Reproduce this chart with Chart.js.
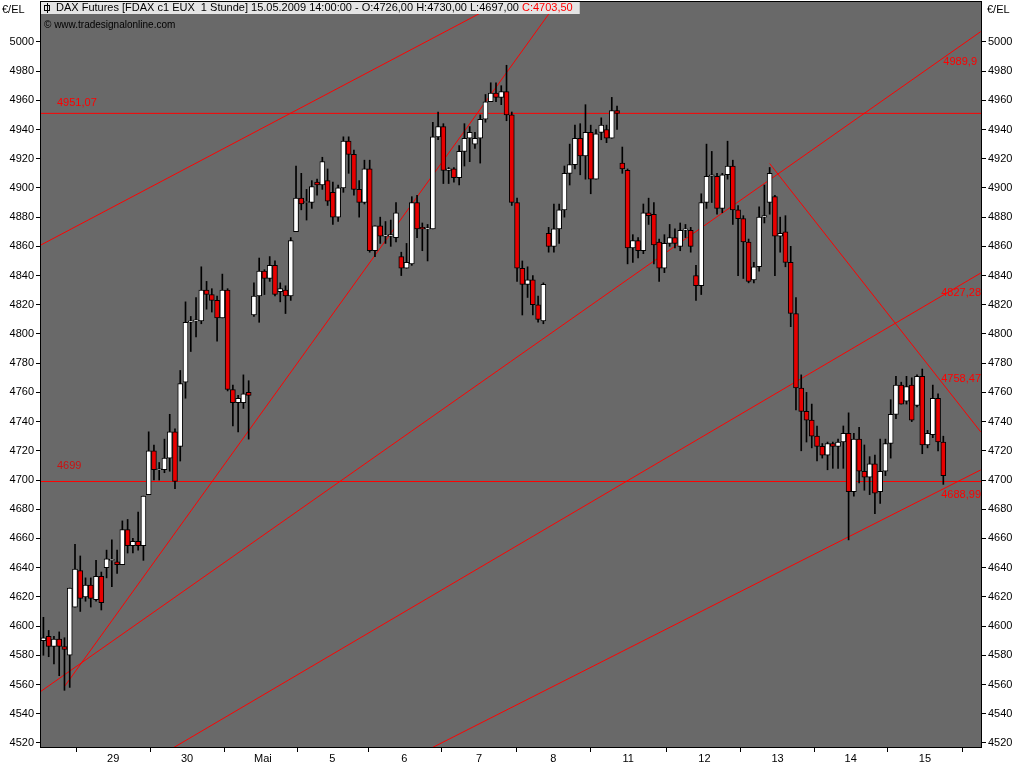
<!DOCTYPE html>
<html>
<head>
<meta charset="utf-8">
<script src="https://cdn.jsdelivr.net/npm/chart.js@4.4.1/dist/chart.umd.min.js"></script>
<style>
  html, body { margin: 0; padding: 0; background: #ffffff; }
  #wrap { position: relative; width: 1024px; height: 768px; }
</style>
</head>
<body>
<div id="wrap"><canvas id="dax" width="1024" height="768"></canvas></div>
<script>
// hourly FDAX candles, 28.04.2009 - 15.05.2009
const opens = [4590,4593,4586,4591,4586,4580,4613,4638,4620,4628,4618,4634,4640,4645,4644,4642,4666,4655,4658,4655,
  4690,4720,4707,4707,4715,4733,4723,4767,4808,4809,4809,4830,4827,4823,4811,4830,4762,4753,4753,4760,
  4813,4826,4843,4838,4847,4829,4830,4826,4870,4893,4890,4890,4904,4902,4905,4897,4880,4900,4932,4923,
  4899,4890,4913,4857,4874,4867,4867,4866,4853,4845,4848,4890,4873,4872,4872,4935,4942,4912,4913,4907,
  4925,4934,4930,4934,4947,4959,4965,4962,4966,4950,4890,4845,4834,4837,4820,4809,4869,4860,4872,4885,
  4910,4916,4934,4922,4938,4906,4938,4940,4934,4953,4917,4912,4859,4864,4857,4883,4882,4863,4845,4862,
  4866,4860,4871,4871,4840,4833,4890,4908,4908,4886,4909,4915,4885,4879,4863,4837,4846,4880,4890,4894,
  4867,4870,4849,4814,4763,4747,4741,4730,4723,4717,4725,4723,4726,4732,4692,4728,4706,4702,4711,4692,
  4706,4725,4745,4765,4754,4765,4751,4771,4724,4731,4756,4726];
const highs = [4606,4597,4593,4596,4592,4626,4656,4648,4633,4633,4645,4637,4652,4659,4652,4672,4673,4660,4678,4689,
  4733,4724,4712,4728,4745,4735,4775,4822,4812,4825,4846,4836,4831,4826,4841,4831,4765,4758,4772,4768,
  4835,4852,4844,4853,4850,4835,4833,4866,4915,4910,4899,4905,4906,4921,4913,4904,4902,4935,4935,4926,
  4905,4919,4919,4874,4880,4877,4878,4890,4856,4862,4894,4895,4876,4875,4945,4952,4944,4914,4914,4929,
  4944,4942,4938,4950,4964,4972,4972,4970,4984,4952,4893,4850,4846,4840,4826,4835,4873,4889,4889,4915,
  4930,4943,4944,4957,4943,4940,4948,4943,4962,4956,4928,4913,4868,4866,4889,4893,4890,4865,4868,4875,
  4872,4876,4875,4873,4847,4896,4930,4925,4910,4910,4932,4919,4888,4881,4865,4849,4887,4902,4914,4895,
  4880,4881,4860,4825,4772,4760,4752,4737,4725,4726,4726,4728,4737,4746,4732,4736,4724,4716,4717,4728,
  4728,4755,4771,4767,4771,4770,4772,4776,4734,4765,4759,4730];
const lows = [4580,4579,4574,4566,4556,4558,4613,4610,4617,4613,4617,4611,4633,4627,4636,4642,4650,4650,4652,4645,
  4690,4700,4700,4705,4706,4694,4713,4756,4788,4798,4807,4817,4815,4795,4811,4761,4737,4733,4749,4728,
  4812,4808,4827,4836,4826,4822,4814,4823,4870,4885,4878,4886,4895,4899,4888,4875,4877,4897,4910,4895,
  4880,4889,4856,4853,4862,4862,4860,4863,4840,4845,4847,4866,4857,4850,4872,4933,4903,4903,4904,4902,
  4915,4918,4927,4917,4945,4960,4959,4957,4946,4888,4836,4813,4825,4813,4808,4807,4856,4856,4862,4880,
  4902,4913,4909,4906,4896,4906,4933,4931,4934,4940,4910,4848,4849,4852,4855,4875,4848,4836,4842,4860,
  4859,4857,4866,4856,4823,4827,4886,4890,4882,4883,4906,4875,4840,4838,4835,4835,4843,4876,4882,4840,
  4856,4846,4805,4748,4720,4726,4722,4713,4715,4707,4708,4708,4708,4659,4689,4698,4693,4690,4677,4684,
  4703,4715,4742,4752,4752,4740,4750,4718,4722,4729,4720,4697];
const closes = [4592,4586,4591,4586,4584,4626,4639,4619,4628,4619,4634,4616,4646,4645,4642,4666,4655,4658,4655,4689,
  4720,4707,4707,4715,4733,4699,4766,4808,4809,4809,4830,4827,4823,4811,4830,4762,4753,4756,4759,4758,
  4826,4843,4838,4847,4827,4831,4826,4864,4893,4889,4890,4901,4902,4918,4891,4880,4900,4932,4923,4899,
  4890,4913,4857,4874,4867,4867,4868,4883,4845,4849,4890,4872,4872,4872,4935,4942,4912,4913,4907,4925,
  4934,4938,4934,4947,4959,4965,4962,4966,4950,4890,4845,4834,4837,4820,4810,4834,4860,4872,4885,4910,
  4916,4934,4922,4938,4906,4937,4943,4934,4953,4951,4913,4859,4864,4857,4883,4881,4861,4845,4862,4866,
  4862,4871,4872,4860,4833,4890,4908,4909,4886,4909,4915,4885,4879,4863,4836,4846,4880,4881,4910,4867,
  4869,4849,4814,4763,4747,4741,4730,4723,4717,4725,4723,4726,4732,4692,4728,4706,4702,4711,4691,4706,
  4725,4745,4765,4752,4764,4741,4771,4724,4732,4756,4726,4703];

// x axis: day labels sit at these candle positions
const dayLabels = ['29', '30', 'Mai', '5', '6', '7', '8', '11', '12', '13', '14', '15'];
const dayPositions = [13.25, 27.3, 41.7, 54.9, 68.6, 82.8, 96.9, 111.1, 125.6, 139.5, 153.4, 167.5];

// drawn trend lines: [x1, price1, x2, price2]
const trendLines = [
  [-1, 4951.07, 180, 4951.07],
  [-1, 4699, 180, 4699],
  [-0.6, 4860.7, 100, 5052],
  [4.0, 4558.6, 100, 5039],
  [-0.6, 4555, 178.1, 5007],
  [24.66, 4516.6, 178.1, 4841.7],
  [73.8, 4516.6, 178.1, 4706.9],
  [138.0, 4916.7, 178.1, 4733]
];
// price labels on the lines: [text, x px, y px, align]
const lineLabels = [
  ['4951,07', 57, 103, 'left'],
  ['4699', 57, 466, 'left'],
  ['4989,9', 977, 62, 'right'],
  ['4827,28', 981, 293, 'right'],
  ['4758,47', 981, 379, 'right'],
  ['4688,99', 981, 495, 'right']
];

const FONT = 'Liberation Sans';
const RED = '#ff0000';

const wicks = opens.map((o, i) => ({ x: i, y: [lows[i], highs[i]] }));
const bodies = opens.map((o, i) => ({ x: i, y: [o, closes[i]] }));
const bodyColors = opens.map((o, i) => closes[i] >= o ? '#ffffff' : '#e80000');

const lineSets = trendLines.map(t => ({
  type: 'line',
  data: [{ x: t[0], y: t[1] }, { x: t[2], y: t[3] }],
  borderColor: RED,
  borderWidth: 1,
  pointRadius: 0,
  order: 3
}));

// grey plot area, border, header box and line labels
const decor = {
  id: 'decor',
  beforeDraw(chart) {
    const { ctx, chartArea: a } = chart;
    ctx.save();
    ctx.fillStyle = '#696969';
    ctx.fillRect(a.left, a.top, a.right - a.left, a.bottom - a.top);
    ctx.restore();
  },
  afterDraw(chart) {
    const { ctx, chartArea: a } = chart;
    ctx.save();
    ctx.strokeStyle = '#000';
    ctx.lineWidth = 1;
    ctx.strokeRect(a.left + 0.5, a.top + 0.5, a.right - a.left - 1, a.bottom - a.top - 1);

    ctx.font = '11px ' + FONT;
    ctx.textBaseline = 'middle';
    lineLabels.forEach(l => {
      ctx.fillStyle = l[0] === '4699' ? '#cc1111' : RED;
      ctx.textAlign = l[3];
      ctx.fillText(l[0], l[1], l[2]);
    });

    // header
    const head = 'DAX Futures [FDAX c1 EUX  1 Stunde] 15.05.2009 14:00:00 - O:4726,00 H:4730,00 L:4697,00 ';
    ctx.textAlign = 'left';
    const w1 = ctx.measureText(head).width;
    const w2 = ctx.measureText('C:4703,50').width;
    ctx.fillStyle = '#e4e4e4';
    ctx.fillRect(a.left + 1, a.top + 1, w1 + w2 + 22, 12);
    // small candle symbol
    ctx.strokeStyle = '#000';
    ctx.strokeRect(a.left + 4.5, a.top + 4.5, 5, 5);
    ctx.beginPath();
    ctx.moveTo(a.left + 7.5, a.top + 2); ctx.lineTo(a.left + 7.5, a.top + 12);
    ctx.stroke();
    ctx.fillStyle = '#000';
    ctx.fillText(head, a.left + 16, a.top + 7);
    ctx.fillStyle = RED;
    ctx.fillText('C:4703,50', a.left + 16 + w1, a.top + 7);
    ctx.fillStyle = '#000';
    ctx.font = '10px ' + FONT;
    ctx.fillText('\u00A9 www.tradesignalonline.com', a.left + 4, a.top + 24);

    ctx.font = '11px ' + FONT;
    ctx.fillText('\u20AC/EL', 2, 10);
    ctx.fillText('\u20AC/EL', a.right + 5, 10);
    ctx.restore();
  }
};

const yTicks = {
  min: 4516.5,
  max: 5028,
  border: { display: false },
  grid: { drawOnChartArea: false, tickLength: 4, color: '#000' },
  afterBuildTicks(s) {
    const t = [];
    for (let v = 4520; v <= 5000; v += 20) t.push({ value: v });
    s.ticks = t;
  },
  ticks: { color: '#000', padding: 2, font: { family: FONT, size: 11 }, callback: v => String(v) }
};

function fitY(width) {
  return function (s) {
    s.width = width;
    s.paddingTop = 0;
    s.paddingBottom = 0;
  };
}

new Chart(document.getElementById('dax'), {
  type: 'bar',
  data: {
    datasets: [
      {
        data: wicks,
        backgroundColor: '#000',
        barThickness: 1,
        grouped: false,
        order: 2
      },
      {
        data: bodies,
        backgroundColor: bodyColors,
        borderColor: '#000',
        borderWidth: 1,
        borderSkipped: false,
        barThickness: 5,
        minBarLength: 1,
        grouped: false,
        order: 1
      },
      ...lineSets
    ]
  },
  options: {
    responsive: false,
    animation: false,
    events: [],
    layout: { padding: { top: 1, left: 0, right: 0, bottom: 0 } },
    plugins: { legend: { display: false }, tooltip: { enabled: false } },
    scales: {
      x: {
        type: 'linear',
        offset: false,
        min: -0.65,
        max: 178.35,
        border: { display: false },
        grid: { drawOnChartArea: false, tickLength: 4, color: '#000' },
        afterBuildTicks(s) {
          s.ticks = dayPositions.map(v => ({ value: v }));
        },
        ticks: {
          color: '#000',
          padding: 0,
          font: { family: FONT, size: 11 },
          callback(v) {
            const i = dayPositions.indexOf(v);
            return i >= 0 ? dayLabels[i] : '';
          }
        },
        afterFit(s) { s.height = 20; }
      },
      y: Object.assign({ position: 'left', afterFit: fitY(40) }, yTicks),
      y2: Object.assign({ position: 'right', afterFit: fitY(42) }, yTicks)
    }
  },
  plugins: [decor]
});
</script>
</body>
</html>
